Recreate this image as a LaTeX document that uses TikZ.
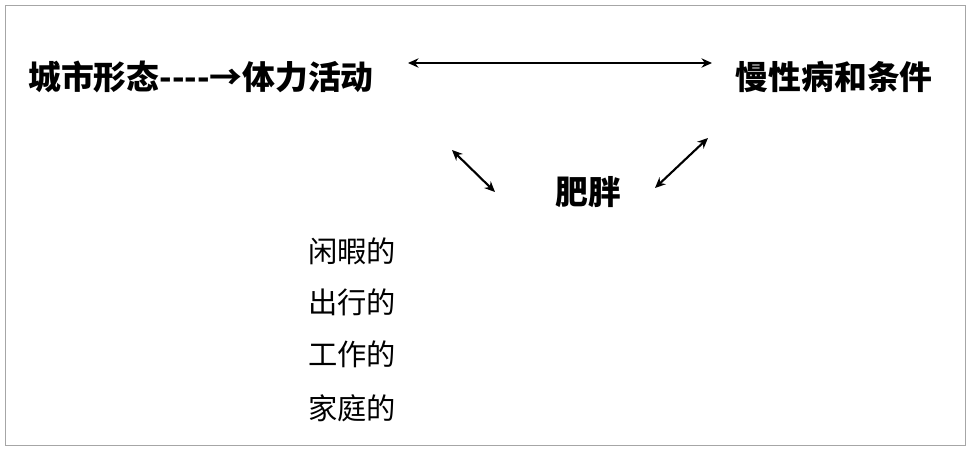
\documentclass[tikz,border=0pt]{standalone}
\usepackage{fontspec}
\usetikzlibrary{arrows.meta}
\newfontfamily\cjk{Noto Sans CJK SC}
\begin{document}
\begin{tikzpicture}[x=0.03cm,y=-0.03cm,
term/.style={font=\cjk\bfseries\fontsize{28}{32}\selectfont, inner sep=0pt},
item/.style={font=\cjk\fontsize{25}{30}\selectfont, inner sep=0pt},
link/.style={{Stealth[length=9pt,width=8pt]}-{Stealth[length=9pt,width=8pt]}, line width=1.8pt}
]
\useasboundingbox (0,0) rectangle (970,450);
\draw[gray!70] (5,5) rectangle (965,445);

\node[term,anchor=west] (urban) at (28,77) {城市形态----→体力活动};
\node[term,anchor=east] (chronic) at (933,77) {慢性病和条件};
\node[term] (obesity) at (588,192) {肥胖};

\coordinate (a1) at (408,63);
\coordinate (a2) at (712,63);
\coordinate (b1) at (452,150);
\coordinate (b2) at (495,192);
\coordinate (c1) at (708,138);
\coordinate (c2) at (655,188);
\draw[link] (a1) -- (a2);
\draw[link] (b1) -- (b2);
\draw[link] (c1) -- (c2);

\node[item] (leisure) at (352,251) {闲暇的};
\node[item] (travel) at (352,302) {出行的};
\node[item] (work) at (352,354) {工作的};
\node[item] (home) at (352,408) {家庭的};
\end{tikzpicture}
\end{document}
